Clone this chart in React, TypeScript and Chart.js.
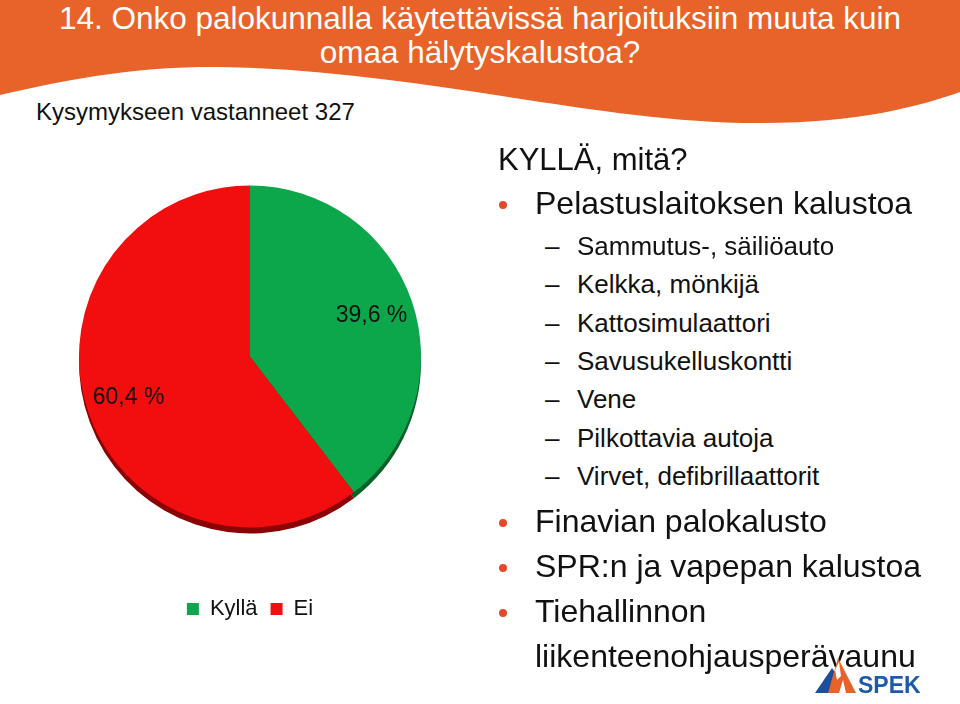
import React, { useEffect, useRef } from "react";
import { Chart, registerables } from "chart.js";

Chart.register(...registerables);

// ---- data ----
const categories = ["Kyllä", "Ei"];
const shares = [39.6, 60.4];
const sliceColors = ["#0CA64B", "#F20E0E"];
const edgeColors = ["#05602A", "#8A0404"];

const titleLines = [
  "14. Onko palokunnalla käytettävissä harjoituksiin muuta kuin",
  "omaa hälytyskalustoa?",
];
const respondents = "Kysymykseen vastanneet 327";
const heading = "KYLLÄ, mitä?";
const firstBullet = "Pelastuslaitoksen kalustoa";
const subItems = [
  "Sammutus-, säiliöauto",
  "Kelkka, mönkijä",
  "Kattosimulaattori",
  "Savusukelluskontti",
  "Vene",
  "Pilkottavia autoja",
  "Virvet, defibrillaattorit",
];
const moreBullets = [
  "Finavian palokalusto",
  "SPR:n ja vapepan kalustoa",
  "Tiehallinnon liikenteenohjausperävaunu",
];

const FONT = '"Liberation Sans", Arial, sans-serif';
const fmt = (v: number) => v.toFixed(1).replace(".", ",") + " %";

const edgePlugin = {
  id: "edge3d",
  beforeDatasetsDraw(chart: any) {
    const ctx = chart.ctx;
    const meta = chart.getDatasetMeta(0);
    meta.data.forEach((arc: any, i: number) => {
      const p = arc.getProps(["x", "y", "startAngle", "endAngle", "outerRadius"], true);
      ctx.save();
      ctx.fillStyle = edgeColors[i];
      ctx.beginPath();
      ctx.moveTo(p.x, p.y + 6);
      ctx.arc(p.x, p.y + 6, p.outerRadius, p.startAngle, p.endAngle);
      ctx.closePath();
      ctx.fill();
      ctx.restore();
    });
  },
};

const labelPlugin = {
  id: "sliceLabels",
  afterDatasetsDraw(chart: any) {
    const ctx = chart.ctx;
    const meta = chart.getDatasetMeta(0);
    const values = chart.data.datasets[0].data as number[];
    meta.data.forEach((arc: any, i: number) => {
      const p = arc.getProps(["x", "y", "startAngle", "endAngle", "outerRadius"], true);
      const mid = (p.startAngle + p.endAngle) / 2;
      const r = p.outerRadius * 0.75;
      ctx.save();
      ctx.font = `23px ${FONT}`;
      ctx.fillStyle = "#111111";
      ctx.textAlign = "center";
      ctx.textBaseline = "middle";
      ctx.fillText(fmt(values[i]), p.x + r * Math.cos(mid), p.y + r * Math.sin(mid));
      ctx.restore();
    });
  },
};

function Text({ x, cy, size, lh, children, color = "#111", center = false, width }: any) {
  return (
    <div
      style={{
        position: "absolute",
        left: center ? 0 : x,
        width: center ? 960 : width,
        textAlign: center ? "center" : "left",
        top: cy - lh / 2,
        fontSize: size,
        lineHeight: lh + "px",
        color,
        fontFamily: FONT,
        whiteSpace: width ? "normal" : "nowrap",
      }}
    >
      {children}
    </div>
  );
}

function Dot({ cy }: { cy: number }) {
  return (
    <div
      style={{
        position: "absolute",
        left: 499,
        top: cy - 4,
        width: 8,
        height: 8,
        borderRadius: 4,
        background: "#E8482A",
      }}
    />
  );
}

export default function App() {
  const ref = useRef<HTMLCanvasElement>(null);

  useEffect(() => {
    if (!ref.current) return;
    const chart = new Chart(ref.current, {
      type: "pie",
      data: {
        labels: categories,
        datasets: [
          {
            data: shares,
            backgroundColor: sliceColors,
            borderWidth: 0,
            radius: 171,
          } as any,
        ],
      },
      options: {
        animation: false,
        responsive: false,
        events: [],
        layout: { padding: { top: 2 } },
        plugins: {
          legend: {
            position: "bottom",
            labels: {
              boxWidth: 12,
              boxHeight: 12,
              padding: 13,
              color: "#111111",
              font: { size: 22, family: FONT },
            },
          },
          tooltip: { enabled: false },
        },
      },
      plugins: [edgePlugin, labelPlugin],
    });
    return () => chart.destroy();
  }, []);

  const subTop = 246;
  const subStep = 38.3;

  return (
    <div
      style={{
        position: "absolute",
        left: 0,
        top: 0,
        width: 960,
        height: 704,
        overflow: "hidden",
        background: "#ffffff",
      }}
    >
      <svg width={960} height={130} style={{ position: "absolute", left: 0, top: 0 }}>
        <path
          d="M0,0 L960,0 L960,92 C920,106 860,123 760,123 C600,124 420,70 220,67 C150,66 80,76 0,95 Z"
          fill="#E8632A"
        />
      </svg>
      <canvas
        ref={ref}
        width={500}
        height={504}
        style={{ position: "absolute", left: 0, top: 126, width: 500, height: 504 }}
      />
      <Text center cy={18} size={31.5} lh={34} color="#ffffff">
        {titleLines[0]}
      </Text>
      <Text center cy={52} size={31.5} lh={34} color="#ffffff">
        {titleLines[1]}
      </Text>
      <Text x={36} cy={112} size={24} lh={28}>
        {respondents}
      </Text>
      <Text x={498} cy={160} size={31} lh={34}>
        {heading}
      </Text>
      <Dot cy={205} />
      <Text x={535} cy={203} size={32} lh={36}>
        {firstBullet}
      </Text>
      {subItems.map((s, i) => (
        <React.Fragment key={s}>
          <Text x={545} cy={subTop + i * subStep} size={26} lh={30}>
            –
          </Text>
          <Text x={577} cy={subTop + i * subStep} size={26} lh={30}>
            {s}
          </Text>
        </React.Fragment>
      ))}
      {moreBullets.map((s, i) => {
        const cys = [521, 566, 611];
        return (
          <React.Fragment key={s}>
            <Dot cy={cys[i] + 2} />
            <div
              style={{
                position: "absolute",
                left: 535,
                top: cys[i] - 22.5,
                width: 400,
                fontSize: 32,
                lineHeight: "45px",
                color: "#111",
                fontFamily: FONT,
              }}
            >
              {s}
            </div>
          </React.Fragment>
        );
      })}
      <svg width={120} height={50} style={{ position: "absolute", left: 808, top: 650 }}>
        <polygon points="7,43 24,18 41,43" fill="#1E4F9C" />
        <polygon points="20,43 30,8 48,43" fill="#E8632A" />
        <polygon points="27,20 31,12 33,26 29,30" fill="#ffffff" />
        <polygon points="31,43 35,30 38,43" fill="#ffffff" />
        <text
          x={50}
          y={43}
          fontFamily={FONT}
          fontWeight="bold"
          fontSize={23}
          fill="#1E5AA8"
        >
          SPEK
        </text>
      </svg>
    </div>
  );
}
